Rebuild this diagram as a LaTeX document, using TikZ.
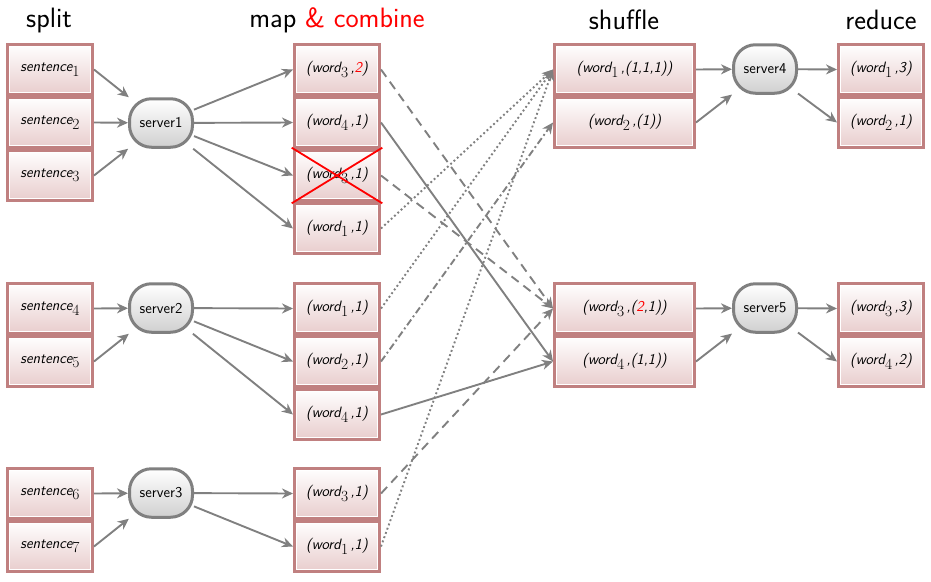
\documentclass[tikz,border=0pt]{standalone}
\usetikzlibrary{arrows.meta}

\definecolor{cellborder}{RGB}{192,128,128}
\definecolor{cellbottom}{RGB}{232,204,204}
\definecolor{linkgray}{RGB}{128,128,128}
\definecolor{srvbottom}{RGB}{208,208,208}

\newcommand\cellfont{\fontsize{15}{17}\selectfont\sffamily\itshape}
\newcommand\srvfont{\fontsize{15}{17}\selectfont\sffamily}
\newcommand\headfont{\fontsize{28}{32}\selectfont\sffamily}
% serif index set below the baseline
\newcommand\idx[1]{\raisebox{-4.5pt}{\fontsize{15.5}{15.5}\selectfont\rmfamily\upshape #1}}
\newcommand\wrd[2]{(word\idx{#1}\,,#2)}
\newcommand\snt[1]{sentence\idx{#1}}

\tikzset{
  cell/.style={rectangle, draw=cellborder, line width=2.6pt,
    top color=white, bottom color=cellbottom,
    minimum width=85.4pt, minimum height=50.4pt, inner sep=0pt,
    font=\cellfont,
    path picture={\draw[white, line width=1.1pt]
      ([shift={(1.9pt,-1.9pt)}]path picture bounding box.north west) rectangle
      ([shift={(-1.9pt,1.9pt)}]path picture bounding box.south east);}},
  widecell/.style={cell, minimum width=140.4pt},
  srv/.style={rectangle, rounded corners=22pt, draw=linkgray, line width=3pt,
    top color=white, bottom color=srvbottom,
    minimum width=63pt, minimum height=48.5pt, inner sep=0pt, font=\srvfont},
  head/.style={anchor=base, font=\headfont, inner sep=0pt},
  link/.style={draw=linkgray, line width=1.9pt,
    -{Stealth[length=11pt, width=10pt, inset=3.5pt]}},
  dashlink/.style={link, dash pattern=on 9pt off 6pt},
  dotlink/.style={link, dash pattern=on 1.9pt off 2.6pt},
  dashdotlink/.style={link, dash pattern=on 7pt off 3pt on 1.9pt off 3pt},
}

\begin{document}
\begin{tikzpicture}[x=1pt, y=-1pt]
\useasboundingbox (0,0) rectangle (931,581);

% column titles
\node[head] (hsplit) at (49,27) {split};
\node[head] (hmap) at (337,27) {map \textcolor{red}{\& combine}};
\node[head] (hshuffle) at (624,29) {shuffle};
\node[head] (hreduce) at (881,29) {reduce};

% input sentences
\node[cell] (s1) at (50,69.5) {\snt{1}};
\node[cell] (s2) at (50,122.5) {\snt{2}};
\node[cell] (s3) at (50,175.5) {\snt{3}};
\node[cell] (s4) at (50,308.5) {\snt{4}};
\node[cell] (s5) at (50,361.5) {\snt{5}};
\node[cell] (s6) at (50,493.5) {\snt{6}};
\node[cell] (s7) at (50,546.5) {\snt{7}};

% servers
\node[srv] (srv1) at (161,123) {server1};
\node[srv] (srv2) at (161,308) {server2};
\node[srv] (srv3) at (161,493) {server3};
\node[srv] (srv4) at (765,69) {server4};
\node[srv] (srv5) at (765,308) {server5};

% map outputs
\node[cell] (m11) at (337,69.5) {\wrd{3}{\textcolor{red}{2}}};
\node[cell] (m12) at (337,122.5) {\wrd{4}{1}};
\node[cell] (m13) at (337,175.5) {\wrd{3}{1}};
\node[cell] (m14) at (337,228.5) {\wrd{1}{1}};
\node[cell] (m21) at (337,308.5) {\wrd{1}{1}};
\node[cell] (m22) at (337,361.5) {\wrd{2}{1}};
\node[cell] (m23) at (337,414.5) {\wrd{4}{1}};
\node[cell] (m31) at (337,493.5) {\wrd{3}{1}};
\node[cell] (m32) at (337,546.5) {\wrd{1}{1}};

% combined pair removed by the combiner
\draw[red, line width=1.8pt]
  ([shift={(-1.3pt,1.3pt)}]m13.north west) -- ([shift={(1.3pt,-1.3pt)}]m13.south east)
  ([shift={(-1.3pt,-1.3pt)}]m13.south west) -- ([shift={(1.3pt,1.3pt)}]m13.north east);

% shuffled groups
\node[widecell] (u1) at (624.5,69.5) {\wrd{1}{(1,1,1)}};
\node[widecell] (u2) at (624.5,122.5) {\wrd{2}{(1)}};
\node[widecell] (u3) at (624.5,308.5) {\wrd{3}{(\textcolor{red}{2},1)}};
\node[widecell] (u4) at (624.5,361.5) {\wrd{4}{(1,1)}};

% reduced counts
\node[cell] (r1) at (881,69.5) {\wrd{1}{3}};
\node[cell] (r2) at (881,122.5) {\wrd{2}{1}};
\node[cell] (r3) at (881,308.5) {\wrd{3}{3}};
\node[cell] (r4) at (881,361.5) {\wrd{4}{2}};

% split -> servers
\draw[link] (s1.east) -- (srv1);
\draw[link] (s2.east) -- (srv1);
\draw[link] (s3.east) -- (srv1);
\draw[link] (s4.east) -- (srv2);
\draw[link] (s5.east) -- (srv2);
\draw[link] (s6.east) -- (srv3);
\draw[link] (s7.east) -- (srv3);

% servers -> map outputs
\draw[link] (srv1) -- (m11.west);
\draw[link] (srv1) -- (m12.west);
\draw[link] (srv1) -- (m13.west);
\draw[link] (srv1) -- (m14.west);
\draw[link] (srv2) -- (m21.west);
\draw[link] (srv2) -- (m22.west);
\draw[link] (srv2) -- (m23.west);
\draw[link] (srv3) -- (m31.west);
\draw[link] (srv3) -- (m32.west);

% shuffle
\draw[dashlink] (m11.east) -- (u3.west);
\draw[link] (m12.east) -- (u4.west);
\draw[dashlink] (m13.east) -- (u3.west);
\draw[dotlink] (m14.east) -- (u1.west);
\draw[dotlink] (m21.east) -- (u1.west);
\draw[dashdotlink] (m22.east) -- (u2.west);
\draw[link] (m23.east) -- (u4.west);
\draw[dashlink] (m31.east) -- (u3.west);
\draw[dotlink] (m32.east) -- (u1.west);

% reduce
\draw[link] (u1.east) -- (srv4);
\draw[link] (u2.east) -- (srv4);
\draw[link] (srv4) -- (r1.west);
\draw[link] (srv4) -- (r2.west);
\draw[link] (u3.east) -- (srv5);
\draw[link] (u4.east) -- (srv5);
\draw[link] (srv5) -- (r3.west);
\draw[link] (srv5) -- (r4.west);
\end{tikzpicture}
\end{document}
